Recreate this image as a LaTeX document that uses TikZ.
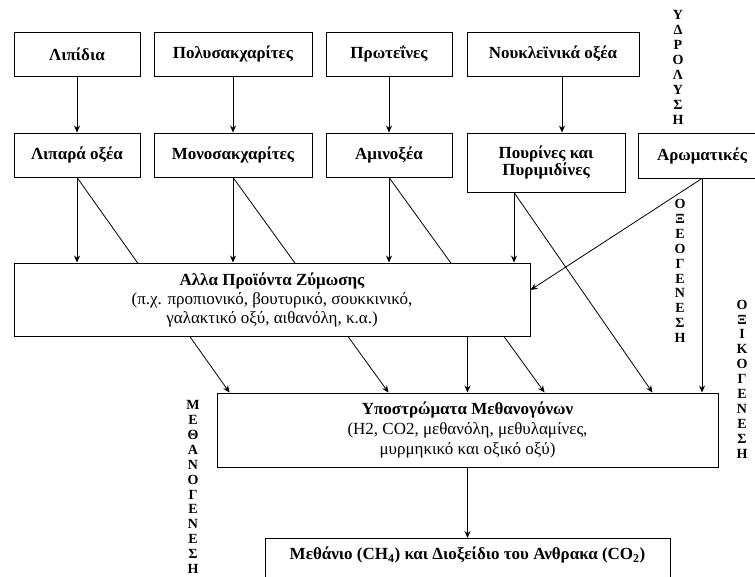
\documentclass[tikz,border=0pt]{standalone}
\usepackage{fontspec}
\setmainfont{Liberation Serif}
\usetikzlibrary{arrows.meta,calc}
\pgfdeclarelayer{background}
\pgfsetlayers{background,main}
\begin{document}
\begin{tikzpicture}[x=1pt,y=-1pt,
  box/.style={draw, line width=0.9pt, fill=white, inner sep=1pt, align=center,
    font=\fontsize{17}{20}\selectfont\bfseries},
  arr/.style={-{Stealth[length=7pt,width=6pt]}, line width=0.8pt},
  vtxt/.style={align=center, inner sep=0pt, font=\fontsize{14}{14.9}\selectfont\bfseries},
  lbl/.style={inner sep=0pt, font=\fontsize{17}{20}\selectfont\bfseries}]
\useasboundingbox (0,0) rectangle (755,577);
% top row
\node[box, minimum width=126pt, minimum height=44pt] (lip) at (77,54) {Λιπίδια};
\node[box, minimum width=158pt, minimum height=44pt] (pol) at (233,54) {Πολυσακχαρίτες};
\node[box, minimum width=126pt, minimum height=44pt] (prot) at (389,54) {Πρωτεΐνες};
\node[box, minimum width=172pt, minimum height=44pt] (nuc) at (553,54) {Νουκλεϊνικά οξέα};
% second row
\node[box, minimum width=126pt, minimum height=44pt] (lipo) at (77,155) {Λιπαρά οξέα};
\node[box, minimum width=158pt, minimum height=44pt] (mono) at (233,155) {Μονοσακχαρίτες};
\node[box, minimum width=126pt, minimum height=44pt] (amin) at (389,155) {Αμινοξέα};
\node[box, minimum width=158pt, minimum height=59pt] (pur) at (546,162.5) {Πουρίνες και\\[-3pt]Πυριμιδίνες};
\node[box, minimum width=128pt, minimum height=45pt] (arom) at (702,155.5) {Αρωματικές};
% middle
\node[box, minimum width=516pt, minimum height=73pt] (alla) at (272,299.5)
  {Αλλα Προϊόντα Ζύμωσης\\[-1pt]{\mdseries (π.χ. προπιονικό, βουτυρικό, σουκκινικό,}\\[-1pt]{\mdseries γαλακτικό οξύ, αιθανόλη, κ.α.)}};
\node[box, minimum width=501pt, minimum height=74pt] (ypo) at (467.5,430)
  {Υποστρώματα Μεθανογόνων\\{\mdseries (Η2, CO2, μεθανόλη, μεθυλαμίνες,}\\{\mdseries μυρμηκικό και οξικό οξύ)}};
\node[box, minimum width=405pt, minimum height=60pt, anchor=north] (meth) at (467.5,538) {};
\node[lbl] (methtxt) at (467.5,555) {Μεθάνιο (CH\textsubscript{4}) και Διοξείδιο του Ανθρακα (CO\textsubscript{2})};
% vertical labels
\node[vtxt] (hydro) at (678,67.5) {Υ\\Δ\\Ρ\\Ο\\Λ\\Υ\\Σ\\Η};
\node[vtxt] (oxeo) at (680,271) {Ο\\Ξ\\Ε\\Ο\\Γ\\Ε\\Ν\\Ε\\Σ\\Η};
\node[vtxt] (oxiko) at (742,379) {Ο\\Ξ\\Ι\\Κ\\Ο\\Γ\\Ε\\Ν\\Ε\\Σ\\Η};
\node[vtxt] (metha) at (193,487) {Μ\\Ε\\Θ\\Α\\Ν\\Ο\\Γ\\Ε\\Ν\\Ε\\Σ\\Η};
% coordinates
\coordinate (purL) at ([xshift=-32pt]pur.south);
% arrows
\draw[arr] (lip.south) -- (lipo.north);
\draw[arr] (pol.south) -- (mono.north);
\draw[arr] (prot.south) -- (amin.north);
\draw[arr] ([xshift=9pt]nuc.south) -- ([xshift=16pt]pur.north);
\draw[arr] (lipo.south) -- (lipo.south |- alla.north);
\draw[arr] (mono.south) -- (mono.south |- alla.north);
\draw[arr] (amin.south) -- (amin.south |- alla.north);
\draw[arr] (purL) -- (purL |- alla.north);
\begin{pgfonlayer}{background}
\draw[arr] (lipo.south) -- ([xshift=13pt]ypo.north west);
\draw[arr] (mono.south) -- ([xshift=172pt]ypo.north west);
\draw[arr] (amin.south) -- ([xshift=328pt]ypo.north west);
\draw[arr] (purL) -- ([xshift=436pt]ypo.north west);
\end{pgfonlayer}
\draw[arr] (arom.south) -- (arom.south |- ypo.north);
\draw[arr] (arom.south) -- ([yshift=9.5pt]alla.east);
\draw[arr] (ypo.north |- alla.south) -- (ypo.north);
\draw[arr] (ypo.south) -- (meth.north);
\end{tikzpicture}
\end{document}
